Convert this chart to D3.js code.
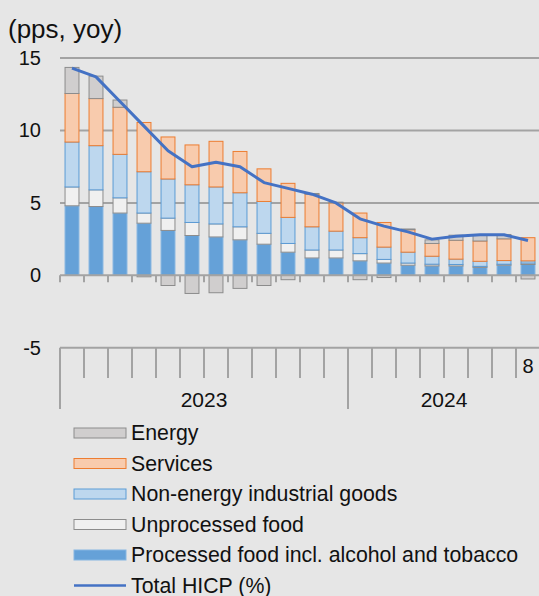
<!DOCTYPE html>
<html>
<head>
<meta charset="utf-8">
<script src="https://cdn.jsdelivr.net/npm/d3@7"></script>
<style>
  html, body { margin: 0; padding: 0; background: #e6e6e6; }
  svg { display: block; font-family: "Liberation Sans", Arial, sans-serif; }
</style>
</head>
<body>
<svg id="chart" width="539" height="596"></svg>
<script>
// Contributions to HICP inflation, percentage points, year on year
const months = ["2023-01","2023-02","2023-03","2023-04","2023-05","2023-06","2023-07","2023-08","2023-09","2023-10","2023-11","2023-12",
                "2024-01","2024-02","2024-03","2024-04","2024-05","2024-06","2024-07","2024-08"];
const monthTickLabels = ["","","","","","","","","","","","","","","","","","","","8"];
const years = ["2023", "2024"];
const yTicks = [-5, 0, 5, 10, 15];

const processedFood = [4.8, 4.75, 4.3, 3.6, 3.1, 2.75, 2.65, 2.45, 2.15, 1.6, 1.2, 1.2, 1.0, 0.85, 0.7, 0.65, 0.65, 0.55, 0.7, 0.75];
const unprocessedFood = [1.3, 1.15, 1.05, 0.7, 0.85, 0.9, 0.9, 0.9, 0.75, 0.6, 0.55, 0.55, 0.5, 0.25, 0.15, 0.12, 0.1, 0.07, 0.07, 0.1];
const industrialGoods = [3.1, 3.05, 3.0, 2.85, 2.7, 2.6, 2.55, 2.35, 2.2, 1.8, 1.6, 1.3, 1.1, 0.85, 0.75, 0.55, 0.37, 0.35, 0.25, 0.15];
const services = [3.35, 3.25, 3.25, 3.4, 2.9, 2.75, 3.15, 2.85, 2.25, 2.35, 2.25, 1.95, 1.7, 1.7, 1.55, 0.88, 1.3, 1.4, 1.5, 1.6];
const energy = [1.8, 1.55, 0.5, -0.1, -0.7, -1.25, -1.2, -0.9, -0.7, -0.3, 0.05, 0.05, -0.3, -0.15, 0.05, 0.25, 0.35, 0.4, 0.3, -0.25];
const totalHICP = [14.3, 13.7, 12.0, 10.3, 8.6, 7.5, 7.8, 7.5, 6.4, 6.0, 5.6, 5.0, 3.9, 3.4, 3.0, 2.5, 2.7, 2.8, 2.8, 2.4];

// stacking order, bottom to top
const series = [
  { name: "Processed food incl. alcohol and tobacco", values: processedFood, fill: "#65a1d8", stroke: "#86b6e2" },
  { name: "Unprocessed food", values: unprocessedFood, fill: "#f0f0f0", stroke: "#8c8c8c" },
  { name: "Non-energy industrial goods", values: industrialGoods, fill: "#bdd7ee", stroke: "#5b9bd5" },
  { name: "Services", values: services, fill: "#f8cbad", stroke: "#ed7d31" },
  { name: "Energy", values: energy, fill: "#d0cece", stroke: "#8c8c8c" }
];
const legendOrder = ["Energy", "Services", "Non-energy industrial goods", "Unprocessed food", "Processed food incl. alcohol and tobacco"];

const svg = d3.select("#chart");
const W = 539, H = 596;
svg.append("rect").attr("width", W).attr("height", H).attr("fill", "#e6e6e6");

const x = d3.scaleBand().domain(months).range([60, 540]).paddingInner(0.42).paddingOuter(0.21);
const y = d3.scaleLinear().domain([-5, 15]).range([347.8, 58]);
const step = x.step();

// title
svg.append("text").attr("x", 8).attr("y", 38).attr("font-size", 26).attr("fill", "#111")
  .text("(pps, yoy)");

// gridlines at positive ticks
svg.append("g").selectAll("line").data(yTicks.filter(t => t > 0)).join("line")
  .attr("x1", 60).attr("x2", W).attr("y1", d => y(d)).attr("y2", d => y(d))
  .attr("stroke", "#a3a3a3").attr("stroke-width", 2);

// y tick labels
svg.append("g").selectAll("text").data(yTicks).join("text")
  .attr("x", 41).attr("y", d => y(d)).attr("dy", "0.35em")
  .attr("text-anchor", "end").attr("font-size", 20).attr("fill", "#111")
  .text(d => d);

// stacked bars, positives up from zero and negatives down
const stacks = months.map(() => ({ pos: 0, neg: 0 }));
const segs = [];
series.forEach(s => {
  s.values.forEach((v, i) => {
    const st = stacks[i];
    let y0, y1;
    if (v >= 0) { y0 = st.pos; y1 = st.pos + v; st.pos = y1; }
    else { y0 = st.neg; y1 = st.neg + v; st.neg = y1; }
    segs.push({ month: months[i], y0, y1, s });
  });
});
svg.append("g").selectAll("rect").data(segs).join("rect")
  .attr("x", d => x(d.month))
  .attr("width", x.bandwidth())
  .attr("y", d => y(Math.max(d.y0, d.y1)))
  .attr("height", d => Math.abs(y(d.y0) - y(d.y1)))
  .attr("fill", d => d.s.fill)
  .attr("stroke", d => d.s.stroke)
  .attr("stroke-width", 1);

// zero axis with ticks between categories
const zeroY = y(0);
svg.append("line").attr("x1", 60).attr("x2", W).attr("y1", zeroY).attr("y2", zeroY)
  .attr("stroke", "#a3a3a3").attr("stroke-width", 2);
svg.append("g").selectAll("line").data(months).join("line")
  .attr("x1", d => x(d) - step * 0.21).attr("x2", d => x(d) - step * 0.21)
  .attr("y1", zeroY).attr("y2", zeroY + 7)
  .attr("stroke", "#a3a3a3").attr("stroke-width", 2);

// total HICP line
const line = d3.line().x((d, i) => x(months[i]) + x.bandwidth() / 2).y(d => y(d));
svg.append("path").datum(totalHICP).attr("d", line)
  .attr("fill", "none").attr("stroke", "#4472c4").attr("stroke-width", 3)
  .attr("stroke-linejoin", "round");

// category axis at the bottom
const baseY = y(-5);
const axisG = svg.append("g");
axisG.append("line").attr("x1", 60).attr("x2", W).attr("y1", baseY).attr("y2", baseY)
  .attr("stroke", "#a3a3a3").attr("stroke-width", 2);
const boundaryX = (i) => x(months[i]) - step * 0.21;
axisG.selectAll("line.tick").data(months.slice(1)).join("line").attr("class", "tick")
  .attr("x1", (d, i) => boundaryX(i + 1)).attr("x2", (d, i) => boundaryX(i + 1))
  .attr("y1", baseY).attr("y2", d => d.endsWith("-01") ? 409 : 378)
  .attr("stroke", "#a3a3a3").attr("stroke-width", 2);
axisG.append("line").attr("x1", boundaryX(0)).attr("x2", boundaryX(0)).attr("y1", baseY).attr("y2", 409)
  .attr("stroke", "#a3a3a3").attr("stroke-width", 2);
axisG.selectAll("text.month").data(months).join("text").attr("class", "month")
  .attr("x", d => x(d) + x.bandwidth() / 2).attr("y", 373)
  .attr("text-anchor", "middle").attr("font-size", 20).attr("fill", "#111")
  .text((d, i) => monthTickLabels[i]);
years.forEach(yr => {
  const ms = months.filter(m => m.startsWith(yr));
  const x0 = x(ms[0]) - step * 0.21;
  const x1 = x(ms[ms.length - 1]) - step * 0.21 + step;
  axisG.append("text").attr("x", (x0 + x1) / 2).attr("y", 407)
    .attr("text-anchor", "middle").attr("font-size", 21).attr("fill", "#111").text(yr);
});

// legend
const legend = svg.append("g");
const rowY0 = 433, rowStep = 30.5;
legendOrder.forEach((name, i) => {
  const s = series.find(d => d.name === name);
  const cy = rowY0 + i * rowStep;
  legend.append("rect").attr("x", 74).attr("y", cy - 5).attr("width", 52).attr("height", 10)
    .attr("fill", s.fill).attr("stroke", s.stroke).attr("stroke-width", 1);
  legend.append("text").attr("x", 131).attr("y", cy).attr("dy", "0.35em")
    .attr("font-size", 21.3).attr("fill", "#111").text(name);
});
const ly = rowY0 + legendOrder.length * rowStep;
legend.append("line").attr("x1", 74).attr("x2", 126).attr("y1", ly).attr("y2", ly)
  .attr("stroke", "#4472c4").attr("stroke-width", 2.5);
legend.append("text").attr("x", 131).attr("y", ly).attr("dy", "0.35em")
  .attr("font-size", 21.3).attr("fill", "#111").text("Total HICP (%)");
</script>
</body>
</html>
